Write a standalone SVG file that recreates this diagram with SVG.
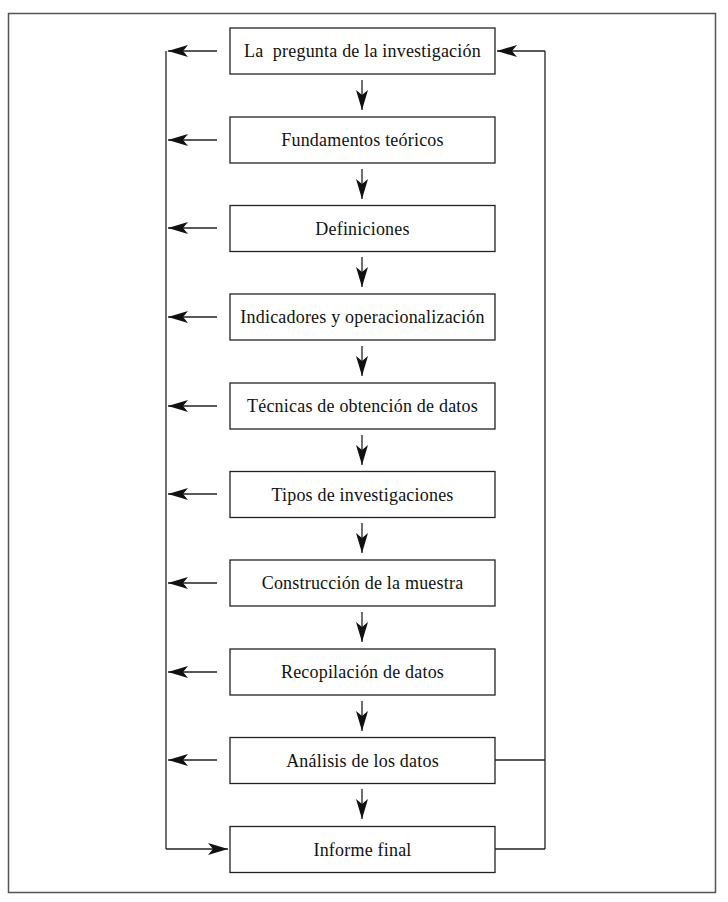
<svg xmlns="http://www.w3.org/2000/svg" width="728" height="902" viewBox="0 0 728 902">
<style>
.box{fill:#fff;stroke:#222;stroke-width:1.3}
.ln{fill:none;stroke:#222;stroke-width:1.3}
.t{font-family:"Liberation Serif","DejaVu Serif",serif;font-size:18px;letter-spacing:0.2px;fill:#111;text-anchor:middle}
</style>
<defs>
<marker id="ah" viewBox="0 0 20 12" refX="20" refY="6" markerWidth="20" markerHeight="12" markerUnits="userSpaceOnUse" orient="auto">
<path d="M0,0 L20,6 L0,12 L5,6 z" fill="#111"/>
</marker>
</defs>
<rect x="8.5" y="13.5" width="707" height="879" fill="#fff" stroke="#555" stroke-width="1.5"/>
<g id="connectors">
<path class="ln" d="M166,51 V849"/>
<path class="ln" d="M545,51 V849"/>
<path class="ln" d="M545,51 H497" marker-end="url(#ah)"/>
<path class="ln" d="M495,760 H545"/>
<path class="ln" d="M495,849 H545"/>
<path class="ln" d="M166,849 H228" marker-end="url(#ah)"/>
<path class="ln" d="M217,51 H168" marker-end="url(#ah)"/>
<path class="ln" d="M217,140 H168" marker-end="url(#ah)"/>
<path class="ln" d="M217,228 H168" marker-end="url(#ah)"/>
<path class="ln" d="M217,317 H168" marker-end="url(#ah)"/>
<path class="ln" d="M217,406 H168" marker-end="url(#ah)"/>
<path class="ln" d="M217,494 H168" marker-end="url(#ah)"/>
<path class="ln" d="M217,583 H168" marker-end="url(#ah)"/>
<path class="ln" d="M217,672 H168" marker-end="url(#ah)"/>
<path class="ln" d="M217,760 H168" marker-end="url(#ah)"/>
<path class="ln" d="M362,80 V110" marker-end="url(#ah)"/>
<path class="ln" d="M362,169 V199" marker-end="url(#ah)"/>
<path class="ln" d="M362,257 V287" marker-end="url(#ah)"/>
<path class="ln" d="M362,346 V376" marker-end="url(#ah)"/>
<path class="ln" d="M362,435 V465" marker-end="url(#ah)"/>
<path class="ln" d="M362,523 V553" marker-end="url(#ah)"/>
<path class="ln" d="M362,612 V642" marker-end="url(#ah)"/>
<path class="ln" d="M362,701 V731" marker-end="url(#ah)"/>
<path class="ln" d="M362,789 V819" marker-end="url(#ah)"/>
</g>
<g id="n1"><rect class="box" x="230" y="28" width="265" height="46"/><text class="t" x="362.5" y="57" xml:space="preserve">La  pregunta de la investigación</text></g>
<g id="n2"><rect class="box" x="230" y="117" width="265" height="46"/><text class="t" x="362.5" y="146">Fundamentos teóricos</text></g>
<g id="n3"><rect class="box" x="230" y="205.5" width="265" height="46"/><text class="t" x="362.5" y="234.5">Definiciones</text></g>
<g id="n4"><rect class="box" x="230" y="294" width="265" height="46"/><text class="t" x="362.5" y="323">Indicadores y operacionalización</text></g>
<g id="n5"><rect class="box" x="230" y="383" width="265" height="46"/><text class="t" x="362.5" y="412">Técnicas de obtención de datos</text></g>
<g id="n6"><rect class="box" x="230" y="471.5" width="265" height="46"/><text class="t" x="362.5" y="500.5">Tipos de investigaciones</text></g>
<g id="n7"><rect class="box" x="230" y="560" width="265" height="46"/><text class="t" x="362.5" y="589">Construcción de la muestra</text></g>
<g id="n8"><rect class="box" x="230" y="649" width="265" height="46"/><text class="t" x="362.5" y="678">Recopilación de datos</text></g>
<g id="n9"><rect class="box" x="230" y="737.5" width="265" height="46"/><text class="t" x="362.5" y="766.5">Análisis de los datos</text></g>
<g id="n10"><rect class="box" x="230" y="826.5" width="265" height="46"/><text class="t" x="362.5" y="855.5">Informe final</text></g>
</svg>
